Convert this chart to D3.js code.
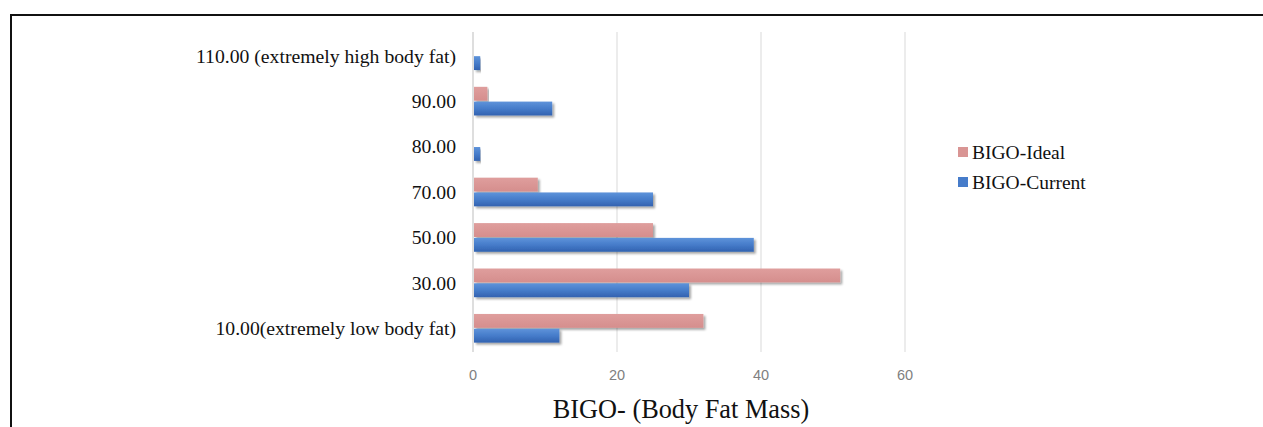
<!DOCTYPE html>
<html><head><meta charset="utf-8">
<script src="https://cdn.jsdelivr.net/npm/d3@7"></script>
<style>body{margin:0;background:#fff}svg{display:block}</style>
</head><body>
<script>
const categories = ["110.00 (extremely high body fat)","90.00","80.00","70.00","50.00","30.00","10.00(extremely low body fat)"];
const seriesNames = ["BIGO-Ideal","BIGO-Current"];
const idealValues =   [0, 2, 0, 9, 25, 51, 32];
const currentValues = [1, 11, 1, 25, 39, 30, 12];
const xTicks = [0, 20, 40, 60];
const xTitle = "BIGO- (Body Fat Mass)";

const W = 1263, H = 427;
const svg = d3.select("body").append("svg").attr("width", W).attr("height", H);
const defs = svg.append("defs");
const gb = defs.append("linearGradient").attr("id","gBlue").attr("x1",0).attr("y1",0).attr("x2",0).attr("y2",1);
gb.append("stop").attr("offset","0%").attr("stop-color","#5e93da");
gb.append("stop").attr("offset","50%").attr("stop-color","#467cca");
gb.append("stop").attr("offset","100%").attr("stop-color","#3262b0");
const gp = defs.append("linearGradient").attr("id","gPink").attr("x1",0).attr("y1",0).attr("x2",0).attr("y2",1);
gp.append("stop").attr("offset","0%").attr("stop-color","#df9e9d");
gp.append("stop").attr("offset","100%").attr("stop-color","#d58e8d");
const f = defs.append("filter").attr("id","sh").attr("x","-5%").attr("y","-30%").attr("width","115%").attr("height","180%");
f.append("feDropShadow").attr("dx",2).attr("dy",2).attr("stdDeviation",1.2).attr("flood-color","#000").attr("flood-opacity",0.35);

// frame
svg.append("line").attr("x1",11).attr("x2",W).attr("y1",15).attr("y2",15).attr("stroke","#111").attr("stroke-width",2);
svg.append("line").attr("x1",11).attr("x2",11).attr("y1",14).attr("y2",H).attr("stroke","#111").attr("stroke-width",2);

const x = d3.scaleLinear().domain([0,60]).range([473,905]);
const y = d3.scaleBand().domain(categories).range([33,351]).paddingInner(0.33).paddingOuter(0.165);
const ys = d3.scaleBand().domain(seriesNames).range([0,y.bandwidth()]).padding(0.06);

// gridlines
svg.append("g").selectAll("line").data(xTicks.slice(1)).join("line")
  .attr("x1",d=>x(d)).attr("x2",d=>x(d)).attr("y1",32).attr("y2",352)
  .attr("stroke","#d9d9d9").attr("stroke-width",1);
// axis line
svg.append("line").attr("x1",x(0)).attr("x2",x(0)).attr("y1",32).attr("y2",352).attr("stroke","#c8c8c8").attr("stroke-width",1.2);

const rows = categories.map((c,i)=>({c, vals:[{s:seriesNames[0],v:idealValues[i]},{s:seriesNames[1],v:currentValues[i]}]}));
const g = svg.append("g").selectAll("g").data(rows).join("g").attr("transform",d=>`translate(0,${y(d.c)})`);
g.selectAll("rect").data(d=>d.vals.filter(e=>e.v>0)).join("rect")
  .attr("x",x(0)+1).attr("y",d=>ys(d.s)).attr("height",ys.bandwidth())
  .attr("width",d=>x(d.v)-x(0)-1)
  .attr("fill",d=>d.s===seriesNames[0]?"url(#gPink)":"url(#gBlue)")
  .attr("filter","url(#sh)");

// category labels
svg.append("g").selectAll("text").data(categories).join("text")
  .attr("x",456).attr("y",d=>y(d)+y.bandwidth()/2).attr("dy","0.35em")
  .attr("text-anchor","end").attr("font-family","Liberation Serif, serif").attr("font-size",19.7).attr("fill","#111")
  .text(d=>d);

// x tick labels
svg.append("g").selectAll("text").data(xTicks).join("text")
  .attr("x",d=>x(d)).attr("y",375).attr("dy","0.35em").attr("text-anchor","middle")
  .attr("font-family","Liberation Sans, sans-serif").attr("font-size",14.5).attr("fill","#808080").text(d=>d);

svg.append("text").attr("x",681).attr("y",409).attr("dy","0.35em").attr("text-anchor","middle")
  .attr("font-family","Liberation Serif, serif").attr("font-size",26.3).attr("fill","#111").text(xTitle);

// legend
const lg = svg.append("g").selectAll("g").data(seriesNames).join("g")
  .attr("transform",(d,i)=>`translate(958,${152+i*30})`);
lg.append("rect").attr("x",0).attr("y",-5).attr("width",10).attr("height",10)
  .attr("fill",(d,i)=>i===0?"#d99594":"#467cca");
lg.append("text").attr("x",14).attr("y",0).attr("dy","0.35em").attr("font-family","Liberation Serif, serif")
  .attr("font-size",19.5).attr("fill","#111").text(d=>d);
</script>
</body></html>
